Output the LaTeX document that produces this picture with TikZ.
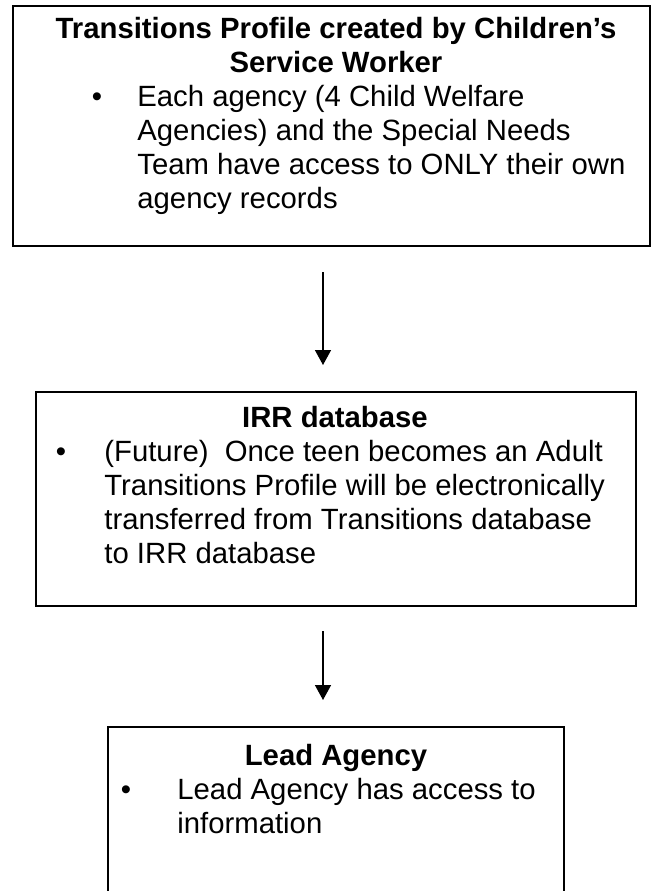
\documentclass[tikz,border=0pt]{standalone}
\usepackage{fontspec}
\setmainfont{Liberation Sans}
\usetikzlibrary{arrows.meta}
\begin{document}
\begin{tikzpicture}[x=0.5pt,y=-0.5pt,
  box/.style={draw, line width=1pt, inner sep=0pt, anchor=north west},
  ttl/.style={font=\bfseries\fontsize{14.65}{16.85}\selectfont, anchor=base, inner sep=0pt},
  txt/.style={font=\fontsize{14.65}{16.85}\selectfont, anchor=base west, inner sep=0pt},
  bul/.style={font=\fontsize{14.65}{16.85}\selectfont, anchor=base, inner sep=0pt},
  arr/.style={line width=0.75pt, -{Triangle[length=7.5pt,width=8pt]}}]
\useasboundingbox (0,0) rectangle (650,891);
% boxes
\node[box, minimum width=318.5pt, minimum height=120pt] (b1) at (12,5) {};
\node[box, minimum width=300pt, minimum height=107pt] (b2) at (35,391) {};
\node[box, minimum width=228pt, minimum height=95pt] (b3) at (107,726) {};
% box 1 text
\node[ttl] (t1a) at (336,38) {Transitions Profile created by Children’s};
\node[ttl] (t1b) at (336,72) {Service Worker};
\node[bul] (u1) at (97,106) {\textbullet};
\node[txt] (l1a) at (137,106) {Each agency (4 Child Welfare};
\node[txt] (l1b) at (137,140) {Agencies) and the Special Needs};
\node[txt] (l1c) at (137,174) {Team have access to ONLY their own};
\node[txt] (l1d) at (137,208) {agency records};
% box 2 text
\node[ttl] (t2a) at (335,427) {IRR database};
\node[bul] (u2) at (61,461) {\textbullet};
\node[txt] (l2a) at (104,461) {(Future)\hspace{0.556em}Once teen becomes an Adult};
\node[txt] (l2b) at (104,495) {Transitions Profile will be electronically};
\node[txt] (l2c) at (104,529) {transferred from Transitions database};
\node[txt] (l2d) at (104,563) {to IRR database};
% box 3 text
\node[ttl] (t3a) at (336,765) {Lead Agency};
\node[bul] (u3) at (126,799) {\textbullet};
\node[txt] (l3a) at (177,799) {Lead Agency has access to};
\node[txt] (l3b) at (177,833) {information};
% arrows
\coordinate (ax) at (323,0);
\draw[arr, shorten <=12.5pt, shorten >=13pt] (b1.south -| ax) -- (b2.north -| ax);
\draw[arr, shorten <=12pt, shorten >=13pt] (b2.south -| ax) -- (b3.north -| ax);
\end{tikzpicture}
\end{document}
